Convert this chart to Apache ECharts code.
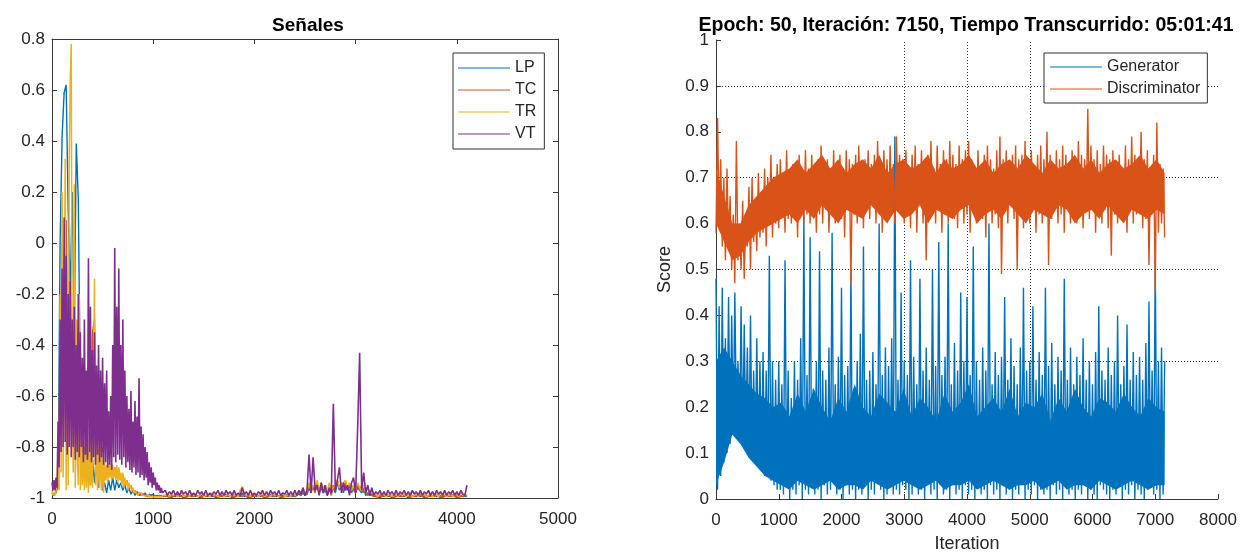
<!DOCTYPE html>
<html><head><meta charset="utf-8">
<script src="https://cdn.jsdelivr.net/npm/echarts@6/dist/echarts.min.js"></script>
<style>html,body{margin:0;padding:0;background:#fff}#c{width:1243px;height:552px}</style>
</head><body><div id="c"></div>
<script>
// ---------- Left chart: "Señales" ----------
// early part sampled every 10 (VT, TR) or 20 (LP, TC) samples; late part (from 1120) every 20
const fineStep = 10, leftStep = 20, lateStart = 1120;
const leftXTicks = [0, 1000, 2000, 3000, 4000, 5000];
const leftNames = ['LP', 'TC', 'TR', 'VT'];

const lpEarly = [-.98,-.99,-.97,-.96,0,.42,.59,.62,.13,-.2,.2,-.35,.39,.17,-.6,-.88,-.8,-.93,-.82,-.95,-.85,-.94,-.83,-.96,-.88,-.97,-.94,-.98,-.93,-.97,-.92,-.97,-.93,-.96,-.94,-.97,-.95,-.98,-.96,-.985,-.97,-.99,-.975,-.99,-.98,-.99,-.98,-.995,-.985,-.99,-.985,-.995,-.99,-.995,-.99,-.995];
const lpLate = [-.99,-.995,-.99,-1,-.99,-.995,-.985,-.995,-.99,-1,-.99,-.995,-.99,-.995,-.985,-.995,-.99,-1,-.99,-.995,-.99,-.995,-.985,-.995,-.99,-1,-.99,-.995,-.99,-.995,-.985,-.995,-.99,-1,-.99,-.995,-.99,-.995,-.98,-.995,-.99,-1,-.99,-.995,-.985,-.995,-.99,-.995,-.99,-1,-.99,-.995,-.985,-.995,-.99,-.995,-.99,-1,-.99,-.995,-.985,-.995,-.99,-.995,-.99,
 -.99,-.985,-.99,-.98,-.99,-.985,
 -.96,-.98,-.95,-.97,-.95,-.98,-.96,-.98,-.97,-.99,-.97,-.98,-.96,-.98,-.94,-.97,-.95,-.98,-.95,-.97,-.95,-.98,-.96,-.98,-.95,-.97,-.98,-.96,-.99,-.98,-.99,-.985,
 -.99,-.995,-.99,-1,-.99,-.995,-.985,-.995,-.99,-1,-.99,-.995,-.99,-.995,-.985,-.995,-.99,-1,-.99,-.995,-.99,-.995,-.985,-.995,-.99,-1,-.99,-.995,-.99,-.995,-.985,-.995,-.99,-1,-.99,-.995,-.99,-.995,-.985,-.995,-.99,-1,-.99,-.995,-.99,-.995,
 -.99];

const tcEarly = [-.98,-.99,-.98,-.95,-.5,0,-.3,.09,-.45,-.15,-.6,-.24,-.5,-.3,-.75,-.85,-.6,-.88,-.5,-.9,-.35,-.3,-.85,-.7,-.9,-.8,-.93,-.88,-.9,-.87,-.91,-.88,-.92,-.89,-.93,-.91,-.95,-.93,-.97,-.95,-.98,-.97,-.985,-.98,-.99,-.985,-.99,-.99,-.995,-.99,-.995,-.99,-.995,-.99,-.995,-.99];
const tcLate = [-.995,-.99,-1,-.99,-.995,-.99,-.995,-.985,-.995,-.99,-1,-.99,-.995,-.99,-.995,-.985,-.995,-.99,-1,-.99,-.995,-.99,-.995,-.985,-.995,-.99,-1,-.99,-.995,-.99,-.995,-.985,-.995,-.99,-1,-.99,-.995,-.99,-.995,-.985,-.995,-.99,-1,-.99,-.995,-.99,-.995,-.985,-.995,-.99,-1,-.99,-.995,-.99,-.995,-.985,-.995,-.99,-1,-.99,-.995,-.99,-.995,-.985,-.995,
 -.99,-.98,-.985,-.97,-.99,-.98,
 -.95,-.97,-.96,-.98,-.94,-.97,-.95,-.98,-.96,-.98,-.96,-.99,-.95,-.97,-.93,-.96,-.94,-.97,-.94,-.96,-.97,-.95,-.97,-.98,-.96,-.97,-.95,-.98,-.97,-.99,-.98,-.99,
 -.995,-.99,-1,-.99,-.995,-.99,-.995,-.985,-.995,-.99,-1,-.99,-.995,-.99,-.995,-.985,-.995,-.99,-1,-.99,-.995,-.99,-.995,-.985,-.995,-.99,-1,-.99,-.995,-.99,-.995,-.985,-.995,-.99,-1,-.99,-.995,-.99,-.995,-.985,-.995,-.99,-1,-.99,-.995,-.99,
 -.995];

const trEarly = [
 -.97,-.99,-.98,-.99,-.97,-.95,-.85,-.97,-.2,-.9,
 .2,-.92,-.5,.33,-.97,-.1,-.95,.3,.63,.78,
 -.6,-.9,.23,-.96,-.3,-.85,-.95,-.2,-.97,-.78,
 -.95,-.8,-.97,-.78,-.96,-.82,-.98,-.77,-.95,-.8,
 -.96,-.5,-.14,-.95,-.78,-.97,-.8,-.96,-.77,-.97,
 -.82,-.98,-.86,-.93,-.87,-.94,-.86,-.92,-.87,-.93,
 -.87,-.92,-.88,-.93,-.87,-.94,-.88,-.93,-.9,-.95,
 -.9,-.96,-.92,-.95,-.93,-.97,-.94,-.96,-.95,-.97,
 -.96,-.98,-.97,-.98,-.975,-.99,-.98,-.985,-.98,-.99,
 -.985,-.99,-.985,-.995,-.99,-.985,-.995,-.99,-.995,-.99,
 -.995,-.99,-.995,-.99,-.995,-.99,-.995,-.99,-.995,-.99,
 -.99];
const trLate = [-.99,-.985,-.995,-.98,-.99,-.985,-.995,-.99,-.98,-.995,-.99,-.985,-.995,-.98,-.99,-.985,-.995,-.99,-.98,-.995,-.99,-.985,-.995,-.98,-.99,-.985,-.995,-.99,-.98,-.995,-.99,-.985,-.995,-.98,-.99,-.985,-.995,-.97,-.955,-.98,-.99,-.985,-.995,-.98,-.99,-.985,-.995,-.99,-.98,-.995,-.99,-.985,-.995,-.98,-.99,-.985,-.995,-.99,-.98,-.995,-.99,-.985,-.995,-.98,-.99,
 -.985,-.97,-.98,-.96,-.985,-.97,
 -.94,-.97,-.95,-.96,-.93,-.97,-.94,-.96,-.95,-.98,-.94,-.97,-.96,-.95,-.93,-.96,-.95,-.94,-.93,-.96,-.94,-.97,-.95,-.97,-.94,-.96,-.97,-.95,-.98,-.96,-.98,-.97,
 -.99,-.985,-.995,-.98,-.99,-.985,-.995,-.99,-.98,-.995,-.99,-.985,-.995,-.98,-.99,-.985,-.995,-.99,-.98,-.995,-.99,-.985,-.995,-.98,-.99,-.985,-.995,-.99,-.98,-.995,-.99,-.985,-.995,-.98,-.99,-.985,-.995,-.99,-.98,-.995,-.99,-.985,-.995,-.98,-.99,-.985,
 -.99];

const vtEarly = [
 -.94,-.97,-.93,-.97,-.92,-.96,-.7,-.88,-.3,-.82,
 -.1,-.8,.1,-.78,-.05,-.83,-.2,-.8,-.15,-.84,
 -.3,-.8,-.25,-.85,-.4,-.82,-.2,-.84,-.35,-.8,
 -.45,-.86,-.3,-.83,-.5,-.85,-.06,-.82,-.25,-.86,
 -.42,-.84,-.35,-.87,-.48,-.83,-.4,-.86,-.5,-.84,
 -.45,-.87,-.55,-.86,-.5,-.88,-.66,-.87,-.6,-.89,
 -.4,-.84,-.02,-.86,-.25,-.83,-.1,-.85,-.4,-.87,
 -.3,-.84,-.5,-.88,-.6,-.86,-.65,-.89,-.58,-.9,
 -.7,-.88,-.62,-.91,-.68,-.9,-.53,-.92,-.72,-.91,
 -.75,-.93,-.8,-.92,-.82,-.95,-.86,-.94,-.88,-.96,
 -.9,-.95,-.92,-.97,-.94,-.97,-.95,-.98,-.96,-.98,
 -.98];
const vtLate = [-.97,-.99,-.975,-.985,-.97,-.99,-.975,-.99,-.97,-.985,-.975,-.99,-.97,-.99,-.98,-.99,-.97,-.985,-.975,-.99,-.97,-.99,-.98,-.99,-.975,-.985,-.97,-.99,-.975,-.99,-.97,-.985,-.975,-.99,-.97,-.99,-.98,-.99,-.96,-.985,-.975,-.99,-.97,-.99,-.98,-.99,-.975,-.985,-.97,-.99,-.975,-.99,-.97,-.985,-.975,-.99,-.97,-.99,-.98,-.985,-.97,-.99,-.975,-.99,-.97,
 -.99,-.97,-.985,-.96,-.99,-.97,
 -.83,-.98,-.84,-.97,-.95,-.99,-.94,-.98,-.95,-.99,-.96,-.98,-.63,-.97,-.93,-.88,-.98,-.94,-.97,-.95,-.99,-.94,-.92,-.98,-.73,-.43,-.97,-.9,-.98,-.95,-.99,-.96,
 -.99,-.975,-.985,-.97,-.99,-.975,-.99,-.97,-.985,-.975,-.99,-.97,-.99,-.975,-.985,-.97,-.99,-.975,-.99,-.97,-.985,-.975,-.99,-.97,-.99,-.975,-.985,-.97,-.99,-.975,-.99,-.97,-.985,-.975,-.99,-.97,-.99,-.975,-.985,-.97,-.99,-.975,-.99,-.97,-.985,-.99,
 -.95];

// ---------- Right chart: training scores ----------
const rightStep = 25;          // raw trace, one value every 25 iterations
const bandStep = 130;          // solid core of the dense traces, one value every 130 iterations
const rightXTicks = [0, 1000, 2000, 3000, 4000, 5000, 6000, 7000, 8000];
const gridY = [0.9, 0.7, 0.5, 0.3];
const gridX = [3000, 4000, 5000];

const generator = [
 .48,.02,.42,.05,.46,.08,.35,.1,.44,.12,
 .4,.15,.45,.17,.3,.14,.42,.12,.38,.13,
 .33,.1,.4,.09,.28,.08,.35,.07,.3,.06,
 .32,.05,.28,.06,.53,.04,.3,.03,.26,.02,
 .3,.02,.25,.01,.52,.03,.28,0,.22,.02,
 .3,.01,.26,.03,.35,0,.62,.02,.27,.01,
 .57,.03,.24,.01,.3,.02,.54,0,.28,.03,
 .26,.01,.33,.02,.58,.04,.25,.01,.31,.02,
 .46,0,.27,.03,.29,.01,.5,.02,.24,0,
 .3,.02,.36,.01,.55,.03,.26,0,.28,.02,
 .32,.01,.25,.04,.6,.02,.27,0,.33,.01,
 .29,.03,.35,.01,.79,.02,.26,.01,.45,.03,
 .3,.02,.27,0,.52,.01,.31,.03,.25,.01,
 .48,.02,.28,0,.33,.04,.26,.01,.5,.02,
 .29,0,.56,.03,.27,.01,.31,.02,.6,0,
 .25,.03,.34,.01,.28,.02,.45,0,.3,.03,
 .44,.01,.27,.02,.55,0,.3,.03,.26,.01,
 .33,.02,.28,0,.6,.03,.25,.01,.32,.02,
 .27,0,.31,.03,.44,.01,.26,.02,.35,0,
 .29,.02,.25,.01,.33,.03,.46,0,.28,.02,
 .3,.01,.42,.03,.26,0,.32,.02,.27,.01,
 .46,.02,.29,0,.34,.03,.25,.01,.31,.02,
 .28,0,.48,.03,.26,.01,.33,.02,.25,0,
 .31,.02,.27,.01,.35,.03,.26,0,.3,.02,
 .25,.01,.32,0,.42,.03,.28,.02,.26,.01,
 .33,0,.27,.02,.3,.01,.4,.03,.25,0,
 .29,.02,.38,.01,.26,.03,.32,0,.27,.02,
 .31,.01,.26,0,.34,.02,.43,.03,.28,.01,
 .52,.02,.3,0,.33,.01,.3];

const discriminator = [
 .58,.83,.6,.74,.55,.7,.52,.72,.56,.66,
 .5,.62,.47,.78,.52,.6,.5,.65,.48,.62,
 .55,.68,.5,.7,.56,.64,.54,.71,.57,.66,
 .58,.72,.55,.7,.6,.75,.57,.69,.6,.73,
 .59,.74,.62,.71,.58,.76,.61,.7,.6,.73,
 .62,.72,.57,.75,.63,.7,.6,.76,.62,.72,
 .6,.75,.63,.71,.58,.74,.62,.77,.6,.72,
 .63,.74,.58,.72,.62,.76,.6,.73,.64,.75,
 .61,.72,.57,.76,.63,.74,.47,.73,.62,.75,
 .6,.77,.64,.72,.59,.74,.63,.76,.61,.73,
 .65,.75,.6,.78,.62,.72,.58,.76,.64,.74,
 .61,.77,.63,.73,.6,.79,.65,.75,.62,.74,
 .6,.76,.66,.72,.59,.75,.63,.77,.58,.73,
 .64,.76,.6,.74,.52,.75,.62,.78,.63,.72,
 .6,.77,.64,.73,.58,.76,.62,.74,.6,.78,
 .64,.75,.61,.73,.59,.77,.63,.74,.6,.76,
 .62,.78,.58,.74,.63,.72,.6,.76,.64,.73,
 .61,.75,.57,.77,.63,.74,.6,.72,.62,.76,
 .59,.79,.49,.74,.63,.76,.6,.73,.64,.75,
 .61,.77,.5,.74,.62,.75,.59,.78,.63,.73,
 .6,.76,.64,.72,.58,.75,.62,.77,.6,.74,
 .63,.8,.51,.75,.61,.73,.64,.76,.6,.74,
 .62,.77,.58,.75,.64,.72,.6,.76,.63,.74,
 .6,.78,.62,.75,.59,.74,.63,.85,.61,.77,
 .64,.74,.58,.76,.62,.73,.6,.77,.63,.75,
 .59,.74,.53,.76,.62,.73,.6,.75,.64,.72,
 .61,.77,.58,.74,.63,.79,.6,.75,.62,.73,
 .64,.8,.59,.74,.61,.76,.51,.72,.63,.75,
 .45,.82,.58,.73,.6,.72,.57];

// solid cores of the dense traces (x = 0, 130, ..., 7150)
const genCoreLow = [.03,.08,.14,.12,.09,.07,.05,.04,
 .03,.02,.04,.03,.02,.03,.04,.02,.03,.03,.02,.04,.03,.02,.03,.04,.03,.02,.03,.04,.02,.03,.03,.04,.02,.03,.04,.03,.02,.03,.03,.04,.02,.03,.04,.02,.03,.03,.02,.04,.03,.02,.03,.04,.03,.02,.03,.03];
const genCoreHigh = [.3,.33,.3,.27,.25,.23,.22,.2,
 .21,.18,.23,.19,.24,.2,.17,.22,.19,.25,.2,.18,.23,.21,.19,.24,.18,.22,.2,.17,.23,.19,.21,.25,.18,.2,.22,.19,.24,.18,.21,.2,.23,.17,.22,.19,.24,.2,.18,.22,.21,.19,.23,.2,.18,.22,.2,.19];
const discCoreLow = [.6,.56,.52,.53,.56,.58,.59,.6,.61,
 .62,.6,.63,.61,.64,.62,.6,.63,.62,.61,.64,.62,.6,.63,.61,.62,.64,.6,.63,.62,.61,.63,.64,.6,.62,.63,.61,.64,.62,.6,.63,.62,.61,.64,.63,.6,.62,.63,.61,.64,.62,.6,.63,.62,.61,.63,.62];
const discCoreHigh = [.72,.66,.6,.6,.64,.66,.68,.7,.71,
 .72,.74,.71,.73,.75,.72,.74,.71,.73,.74,.72,.75,.71,.73,.74,.72,.73,.75,.71,.74,.72,.73,.75,.72,.74,.71,.73,.74,.72,.75,.73,.71,.74,.72,.73,.75,.72,.74,.71,.73,.74,.72,.73,.75,.72,.74,.71];

// ---------- build ----------
function pts(vals, step, start) { return vals.map((v, i) => [(start || 0) + i * step, v]); }
const lp = pts(lpEarly, leftStep).concat(pts(lpLate, leftStep, lateStart));
const tc = pts(tcEarly, leftStep).concat(pts(tcLate, leftStep, lateStart));
const tr = pts(trEarly, fineStep).concat(pts(trLate, leftStep, lateStart));
const vt = pts(vtEarly, fineStep).concat(pts(vtLate, leftStep, lateStart));

const ff = '"Liberation Sans", Arial, Helvetica, sans-serif';
const txt = '#262626', axisColor = '#3a3a3a';
const tickFont = 17;
const colors = {LP:'#0072BD', TC:'#D95319', TR:'#EDB120', VT:'#7E2F8E', Generator:'#0072BD', Discriminator:'#D95319'};
const plain = v => String(v);

function baseX(grid, min, max, interval, extra) {
  return Object.assign({
    gridIndex: grid, type: 'value', min: min, max: max, interval: interval,
    axisLine: {show: true, onZero: false, lineStyle: {color: axisColor, width: 1}},
    axisTick: {show: true, inside: true, length: 5, lineStyle: {color: axisColor}},
    axisLabel: {color: txt, fontSize: tickFont, fontFamily: ff, margin: 8, formatter: plain},
    splitLine: {show: false}
  }, extra || {});
}
function line(name, data, xi, yi, w) {
  return {name: name, type: 'line', xAxisIndex: xi, yAxisIndex: yi, data: data,
    showSymbol: false, symbol: 'none', z: 2, clip: true,
    lineStyle: {width: w, color: colors[name]}, itemStyle: {color: colors[name]},
    emphasis: {disabled: true}};
}
function band(name, lows, highs, step, xi, yi) {
  return {type: 'custom', xAxisIndex: xi, yAxisIndex: yi, data: [[0, 0]], z: 2, silent: true, clip: true,
    renderItem: function (params, api) {
      const top = highs.map((v, i) => api.coord([i * step, v]));
      const bot = lows.map((v, i) => api.coord([i * step, v])).reverse();
      return {type: 'polygon', shape: {points: top.concat(bot)}, style: {fill: colors[name]}};
    }};
}

const chart = echarts.init(document.getElementById('c'), null, {renderer: 'canvas'});
chart.setOption({
  animation: false,
  backgroundColor: '#fff',
  textStyle: {fontFamily: ff},
  title: [
    {text: 'Señales', left: 303, top: 11, textAlign: 'center',
     textStyle: {fontSize: 19, fontWeight: 'bold', color: '#000', fontFamily: ff}},
    {text: 'Epoch: 50, Iteración: 7150, Tiempo Transcurrido: 05:01:41', left: 961, top: 11, textAlign: 'center',
     textStyle: {fontSize: 19.5, fontWeight: 'bold', color: '#000', fontFamily: ff}}
  ],
  grid: [
    {left: 52, top: 39, width: 506, height: 459, outerBoundsMode: 'none', containLabel: false},
    {left: 716, top: 40, width: 502, height: 459, outerBoundsMode: 'none', containLabel: false}
  ],
  xAxis: [
    baseX(0, leftXTicks[0], leftXTicks[leftXTicks.length - 1], leftXTicks[1] - leftXTicks[0], {axisLabel: {color: txt, fontSize: tickFont, fontFamily: ff, margin: 13, formatter: plain}}),
    baseX(0, leftXTicks[0], leftXTicks[leftXTicks.length - 1], leftXTicks[1] - leftXTicks[0], {position: 'top', axisLabel: {show: false}}),
    baseX(1, rightXTicks[0], rightXTicks[rightXTicks.length - 1], rightXTicks[1] - rightXTicks[0], {
      axisLabel: {color: txt, fontSize: tickFont, fontFamily: ff, margin: 13, formatter: plain},
      name: 'Iteration', nameLocation: 'middle', nameGap: 36,
      nameTextStyle: {fontSize: 18, color: txt, fontFamily: ff}})
  ],
  yAxis: [
    baseX(0, -1, 0.8, 0.2, {axisLabel: {color: txt, fontSize: tickFont, fontFamily: ff, margin: 7}}),
    baseX(0, -1, 0.8, 0.2, {position: 'right', axisLabel: {show: false}}),
    baseX(1, 0, 1, 0.1, {
      axisLabel: {color: txt, fontSize: tickFont, fontFamily: ff, margin: 7},
      name: 'Score', nameLocation: 'middle', nameGap: 42,
      nameTextStyle: {fontSize: 18, color: txt, fontFamily: ff}})
  ],
  legend: [
    {data: leftNames, orient: 'vertical', left: 453, top: 53, icon: 'rect', itemWidth: 52, itemHeight: 1.2,
     itemGap: 6, padding: [7, 8, 7, 5], borderColor: '#333', borderWidth: 1, backgroundColor: '#fff',
     textStyle: {fontSize: 16, color: txt, fontFamily: ff}, selectedMode: false},
    {data: ['Generator', 'Discriminator'], orient: 'vertical', left: 1044, top: 53, icon: 'rect', itemWidth: 52, itemHeight: 1.2,
     itemGap: 6, padding: [6, 7, 6, 6], borderColor: '#333', borderWidth: 1, backgroundColor: '#fff',
     textStyle: {fontSize: 16, color: txt, fontFamily: ff}, selectedMode: false}
  ],
  series: [
    line('LP', lp, 0, 0, 1.4),
    line('TC', tc, 0, 0, 1.4),
    line('TR', tr, 0, 0, 1.5),
    line('VT', vt, 0, 0, 1.6),
    {name: 'gridlines', type: 'line', xAxisIndex: 2, yAxisIndex: 2, data: [], z: 1, silent: true,
     markLine: {silent: true, z: 1, symbol: ['none', 'none'], label: {show: false}, animation: false,
       lineStyle: {type: [1, 2], color: '#333', width: 1},
       data: gridY.map(v => ({yAxis: v})).concat(gridX.map(v => ({xAxis: v})))}},
    band('Generator', genCoreLow, genCoreHigh, bandStep, 2, 2),
    line('Generator', pts(generator, rightStep), 2, 2, 1.4),
    band('Discriminator', discCoreLow, discCoreHigh, bandStep, 2, 2),
    line('Discriminator', pts(discriminator, rightStep), 2, 2, 1.4)
  ]
});
</script></body></html>
